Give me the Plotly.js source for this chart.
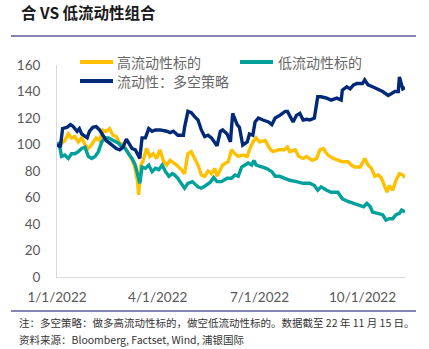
<!DOCTYPE html>
<html>
<head>
<meta charset="utf-8">
<script src="https://cdn.plot.ly/plotly-3.0.1.min.js"></script>
<style>html,body{margin:0;padding:0;background:#fff;}#chart{width:429px;height:349px;}</style>
</head>
<body>
<div id="chart"></div>
<script>
// Day offsets from 2022-01-01 and values
const highDays = [0,4,7,10,13,16,19,22,25,28,31,35,38,41,44,47,50,53,56,59,62,65,68,70,72,73,75,77,80,83,86,89,92,95,98,101,104,107,111,114,117,120,123,126,129,132,135,138,141,143,146,148,153,156,159,162,166,170,172,175,178,181,186,191,193,198,203,206,208,213,216,220,223,228,232,235,238,242,247,251,255,260,263,266,271,275,278,281,284,287,290,293,295,297,300,303,306,309,311];
const highVals = [100,101,103,108,105,106,102,105,100,97,100,105,103,111,110,112,107,106,101,100,96,91,87,81,72,62,84.5,88,97,91,93,89.5,96,88,84.5,88,86,84.5,81,78,93,94.6,89.5,84.5,77,76,80,78,82,76,81,84.5,87,96,93,91,92,91,96,102,105,102,103,96,94.6,96,96,98,94.6,96,91,89.5,91,88,89.5,96,97,92,89.5,88,87,87,84.5,83,83,89.5,84.5,82,76,77,74.5,68,64,69,65.5,73,78,77,75];

const lowDays = [0,2,4,7,10,13,16,19,22,25,28,31,34,37,40,43,46,50,55,58,61,64,67,70,72,74,76,79,82,85,88,91,94,97,100,103,105,108,111,114,117,121,126,129,132,137,140,143,147,152,156,159,162,165,168,171,174,176,178,183,187,192,195,199,204,208,214,220,226,230,233,236,241,245,251,255,260,265,269,274,277,280,282,287,291,294,297,300,303,306,308,311];
const lowVals = [100,101,91,92,89.5,93,93,94.6,97,98,91,89.5,91,94.6,102,105,105,103,101,98,97,93,89.5,84.5,77,70.7,83,82,84.5,79.5,82,81,84.5,79.5,76,78,77,74.5,70.7,67,70.7,72,68,67,68.5,71.5,75,72,72,74.5,74.5,77,76,83,84.5,86,84.5,88,84.5,83,82,79.5,76,76,74.5,73,72,70.7,70.7,69,65.5,68,65.5,64,64,59,57,55.6,54,53,55.6,53,49,48,47,43,44,44,47,48,50.5,49];

const lsDays = [0,3,5,9,12,14,18,20,22,27,29,32,35,38,41,44,47,50,53,56,59,62,64,67,70,73,74,76,79,82,85,88,92,98,101,104,108,113,114,117,120,123,126,129,132,135,138,143,146,148,152,155,157,161,163,166,170,172,175,177,180,184,189,192,195,199,204,206,211,214,217,220,223,226,230,233,236,241,245,250,254,255,259,262,265,268,273,275,278,282,287,291,296,299,302,305,306,308,309,311];
const lsVals = [100,98,112,113,115,114,110,112,108,105,110,113,113.5,111,107,103,101,99,97,96,98,104,101,97,96,91,89.5,105,105,112,110,111,111,110,109,110,107,107,113,125,124,121,118.5,111,106,107,105,99,110,111,108,102,123.5,115,113,99.6,102,108,107,117,120,118.5,117,115,120,122,125,125,117,122,123.5,118.5,119,118.5,120,136,136,135,133.5,135,133.5,141,143.6,142,145,146,146,148.7,145,143.6,141.6,140,137,138.5,140,140,151,145,142,143];

const seriesNames = ['高流动性标的', '低流动性标的', '流动性：多空策略'];
const seriesColors = ['#FFC000', '#00A19B', '#002A78'];
const xTickVals = ['2022-01-01', '2022-04-01', '2022-07-01', '2022-10-01'];
const xTickText = ['1/1/2022', '4/1/2022', '7/1/2022', '10/1/2022'];
const titleText = '合 VS 低流动性组合';
const note1 = '注：多空策略：做多高流动性标的，做空低流动性标的。数据截至 22 年 11 月 15 日。';
const note2 = '资料来源：Bloomberg, Factset, Wind, 浦银国际';

function toDate(d) {
  return new Date(Date.UTC(2022, 0, 1 + d)).toISOString().slice(0, 10);
}

const allDays = [highDays, lowDays, lsDays];
const allVals = [highVals, lowVals, lsVals];
const traces = allDays.map((days, i) => ({
  type: 'scatter', mode: 'lines',
  x: days.map(toDate), y: allVals[i],
  name: seriesNames[i],
  line: {color: seriesColors[i], width: 3.4},
  showlegend: false, hoverinfo: 'skip'
}));

const W = 429, L = 57, R = 405, T = 65, B = 277;
const px = x => (x - L) / (R - L);
const py = y => (B - y) / (B - T);
const cjk = '"Noto Sans CJK SC", "Noto Sans", sans-serif';

const shapes = [
  {type: 'line', xref: 'paper', yref: 'paper', x0: px(11), x1: px(416), y0: py(36), y1: py(36), line: {color: '#5B5B9E', width: 1.3}},
  {type: 'line', xref: 'paper', yref: 'paper', x0: px(11), x1: px(416), y0: py(311), y1: py(311), line: {color: '#5B5B9E', width: 1.3}},
  {type: 'line', xref: 'paper', yref: 'paper', x0: px(80), x1: px(113), y0: py(62), y1: py(62), line: {color: seriesColors[0], width: 4}},
  {type: 'line', xref: 'paper', yref: 'paper', x0: px(240), x1: px(273), y0: py(62), y1: py(62), line: {color: seriesColors[1], width: 4}},
  {type: 'line', xref: 'paper', yref: 'paper', x0: px(80), x1: px(113), y0: py(81), y1: py(81), line: {color: seriesColors[2], width: 4}}
];

const annotations = [
  {text: '<b>' + titleText + '</b>', xref: 'paper', yref: 'paper', x: px(19), y: py(12), xanchor: 'left', yanchor: 'middle', showarrow: false, font: {family: cjk, size: 15.5, color: '#1a1a1a'}},
  {text: seriesNames[0], xref: 'paper', yref: 'paper', x: px(115), y: py(62), xanchor: 'left', yanchor: 'middle', showarrow: false, font: {family: cjk, size: 14, color: '#666666'}},
  {text: seriesNames[1], xref: 'paper', yref: 'paper', x: px(276), y: py(62), xanchor: 'left', yanchor: 'middle', showarrow: false, font: {family: cjk, size: 14, color: '#666666'}},
  {text: seriesNames[2], xref: 'paper', yref: 'paper', x: px(115), y: py(81), xanchor: 'left', yanchor: 'middle', showarrow: false, font: {family: cjk, size: 14, color: '#666666'}},
  {text: note1, xref: 'paper', yref: 'paper', x: px(17), y: py(322), xanchor: 'left', yanchor: 'middle', showarrow: false, font: {family: cjk, size: 10.5, color: '#333333'}},
  {text: note2, xref: 'paper', yref: 'paper', x: px(17), y: py(339), xanchor: 'left', yanchor: 'middle', showarrow: false, font: {family: cjk, size: 10.5, color: '#333333'}}
];

const layout = {
  width: W, height: 349,
  margin: {l: L, r: W - R, t: T, b: 349 - B, pad: 0},
  paper_bgcolor: '#ffffff', plot_bgcolor: '#ffffff',
  showlegend: false,
  xaxis: {
    type: 'date', range: ['2022-01-01', '2022-11-08'],
    tickvals: xTickVals, ticktext: xTickText,
    showgrid: false, zeroline: false,
    showline: true, linecolor: '#D9D9D9', linewidth: 1,
    ticks: 'outside', ticklen: 8, tickcolor: 'rgba(0,0,0,0)',
    tickfont: {family: 'Lato, "Open Sans", sans-serif', size: 13.5, color: '#595959'},
    fixedrange: true
  },
  yaxis: {
    range: [0, 160], dtick: 20, tick0: 0,
    showgrid: false, zeroline: false,
    showline: true, linecolor: '#D9D9D9', linewidth: 1,
    ticks: 'outside', ticklen: 13, tickcolor: 'rgba(0,0,0,0)',
    tickfont: {family: 'Lato, "Open Sans", sans-serif', size: 13.5, color: '#595959'},
    fixedrange: true
  },
  shapes: shapes,
  annotations: annotations
};

Plotly.newPlot('chart', traces, layout, {staticPlot: true, displayModeBar: false});
</script>
</body>
</html>
